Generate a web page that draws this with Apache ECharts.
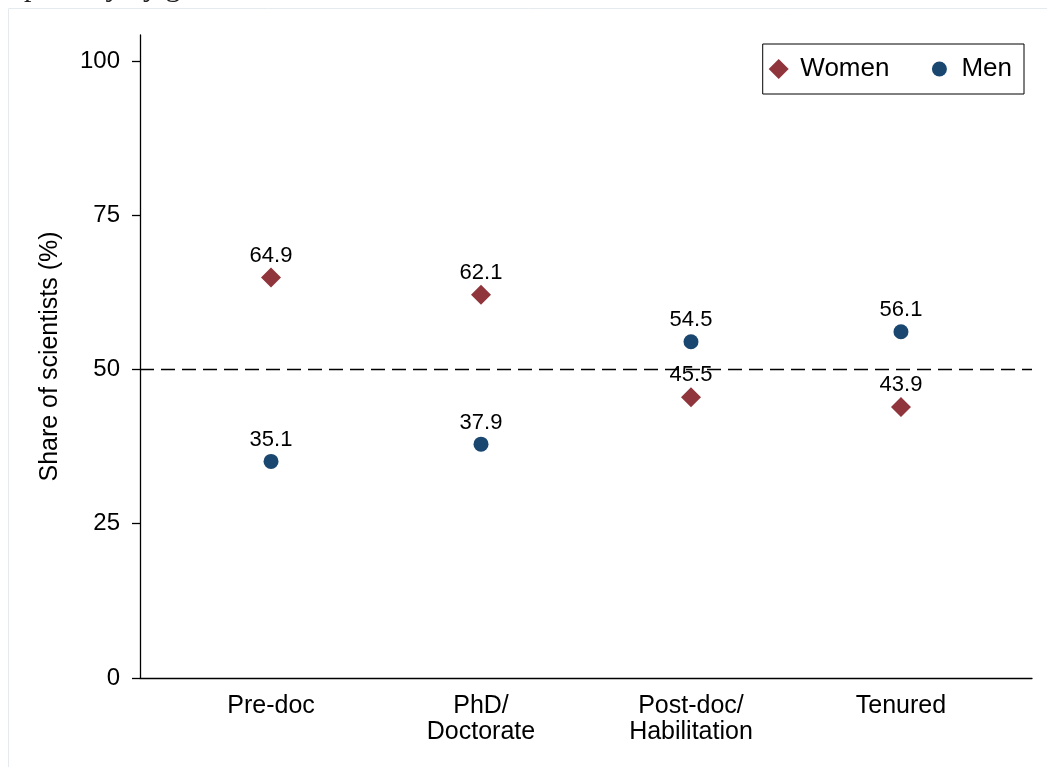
<!DOCTYPE html>
<html>
<head>
<meta charset="utf-8">
<script src="https://cdn.jsdelivr.net/npm/echarts@6/dist/echarts.min.js"></script>
<style>
html,body{margin:0;padding:0;background:#fff;}
#chart{width:1047px;height:767px;}
</style>
</head>
<body>
<div id="chart"></div>
<script>
var categories = ['Pre-doc', 'PhD/\nDoctorate', 'Post-doc/\nHabilitation', 'Tenured'];
var women = [64.9, 62.1, 45.5, 43.9];
var men = [35.1, 37.9, 54.5, 56.1];
var yTicks = [0, 25, 50, 75, 100];
var refLine = 50;

var FONT = '"Liberation Sans", Arial, Helvetica, sans-serif';
var chart = echarts.init(document.getElementById('chart'), null, {renderer: 'canvas'});

function pts(arr) { return arr.map(function (v, i) { return [i + 1, v]; }); }

var diamondIcon = 'path://M0,0 M27,20 M10,-0.5 L20.5,10 L10,20.5 L-0.5,10 Z';
var circleIcon = 'path://M0,0 M27,20 M10,2.5 A7.5,7.5 0 1 1 10,17.5 A7.5,7.5 0 1 1 10,2.5 Z';

var option = {
  animation: false,
  backgroundColor: '#ffffff',
  graphic: [
    {type: 'rect', shape: {x: 8.5, y: 8.5, width: 1100, height: 800}, style: {fill: 'none', stroke: '#e4eaee', lineWidth: 1}, silent: true, z: -10},
    {type: 'text', left: -1, top: -27, style: {text: 'separately by gender.', font: '30px "Liberation Serif", "Times New Roman", serif', fill: '#222'}, silent: true}
  ],
  grid: {left: 140, right: 15, top: 35, bottom: 89, containLabel: false},
  legend: {
    right: 23, top: 44,
    orient: 'horizontal',
    padding: [12, 12, 12, 6],
    borderColor: '#000', borderWidth: 1,
    itemWidth: 27, itemHeight: 20, itemGap: 40,
    textStyle: {fontFamily: FONT, fontSize: 26, color: '#000'},
    data: [{name: 'Women', icon: diamondIcon}, {name: 'Men', icon: circleIcon}]
  },
  xAxis: {
    type: 'value', min: 0.376, max: 4.624,
    axisLine: {show: true, onZero: false, lineStyle: {color: '#000', width: 1.3}},
    axisTick: {show: false},
    splitLine: {show: false},
    axisLabel: {
      customValues: [1, 2, 3, 4],
      formatter: function (v) { return categories[Math.round(v) - 1] || ''; },
      fontFamily: FONT, fontSize: 25, color: '#000', lineHeight: 26, margin: 15
    }
  },
  yAxis: {
    type: 'value', min: 0, max: 104.2,
    name: 'Share of scientists (%)',
    nameLocation: 'middle', nameGap: 77,
    nameTextStyle: {fontFamily: FONT, fontSize: 25, color: '#000'},
    axisLine: {show: true, lineStyle: {color: '#000', width: 1.3}},
    axisTick: {show: true, length: 8, customValues: yTicks, lineStyle: {color: '#000', width: 1.3}},
    splitLine: {show: false},
    axisLabel: {customValues: yTicks, fontFamily: FONT, fontSize: 24, color: '#000', margin: 20}
  },
  series: [
    {
      name: 'Women', type: 'scatter', data: pts(women),
      symbol: 'diamond', symbolSize: 20,
      itemStyle: {color: '#90353b', opacity: 1},
      label: {show: true, position: 'top', distance: 1, formatter: function (p) { return p.value[1].toFixed(1); }, fontFamily: FONT, fontSize: 22, color: '#000'},
      markLine: {
        silent: true, symbol: 'none', label: {show: false},
        lineStyle: {color: '#000', type: [14, 7], width: 1.3, opacity: 1},
        data: [{yAxis: refLine}]
      },
      z: 3
    },
    {
      name: 'Men', type: 'scatter', data: pts(men),
      symbol: 'circle', symbolSize: 15,
      itemStyle: {color: '#1a476f', opacity: 1},
      label: {show: true, position: 'top', distance: 3, formatter: function (p) { return p.value[1].toFixed(1); }, fontFamily: FONT, fontSize: 22, color: '#000'},
      z: 3
    }
  ]
};
chart.setOption(option);
</script>
</body>
</html>
